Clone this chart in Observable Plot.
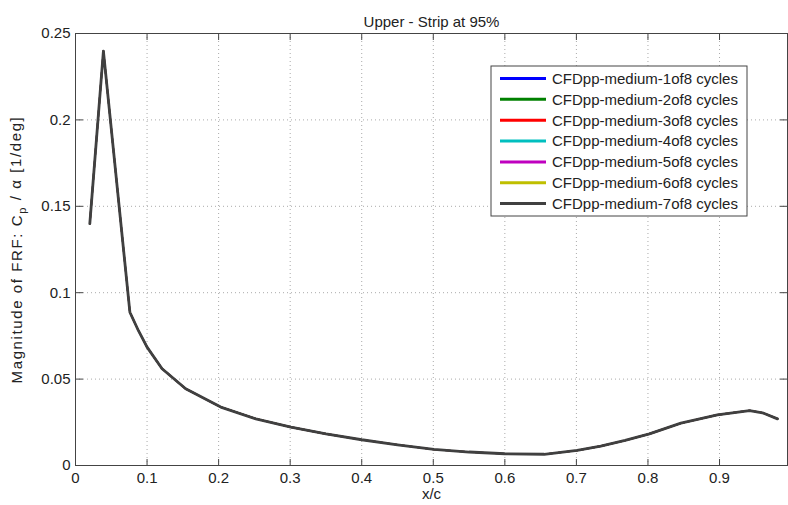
<!DOCTYPE html>
<html>
<head>
<meta charset="utf-8">
<script src="https://cdn.jsdelivr.net/npm/d3@7"></script>
<script src="https://cdn.jsdelivr.net/npm/@observablehq/plot@0.6"></script>
<style>
  html, body { margin: 0; padding: 0; background: #fff; }
  #chart { width: 788px; height: 505px; }
</style>
</head>
<body>
<div id="chart"></div>
<script>
// ---- data ----
const seriesNames = [
  "CFDpp-medium-1of8 cycles",
  "CFDpp-medium-2of8 cycles",
  "CFDpp-medium-3of8 cycles",
  "CFDpp-medium-4of8 cycles",
  "CFDpp-medium-5of8 cycles",
  "CFDpp-medium-6of8 cycles",
  "CFDpp-medium-7of8 cycles"
];
const seriesColors = ["#0000ff", "#008000", "#ff0000", "#00bfbf", "#bf00bf", "#bfbf00", "#404040"];
const xOverC = [0.02, 0.039, 0.076, 0.088, 0.100, 0.121, 0.154, 0.203, 0.252, 0.301, 0.350, 0.400, 0.450, 0.501, 0.550, 0.600, 0.655, 0.701, 0.734, 0.768, 0.802, 0.846, 0.897, 0.942, 0.960, 0.981];
// all seven cycles overlap in the picture
const magnitude = [0.140, 0.2398, 0.0887, 0.078, 0.0685, 0.056, 0.0444, 0.0338, 0.027, 0.0222, 0.0183, 0.0149, 0.0120, 0.0093, 0.0078, 0.0068, 0.0065, 0.0087, 0.0112, 0.0145, 0.0183, 0.0245, 0.0293, 0.0318, 0.0305, 0.027];
const xTicks = [0, 0.1, 0.2, 0.3, 0.4, 0.5, 0.6, 0.7, 0.8, 0.9];
const yTicks = [0, 0.05, 0.1, 0.15, 0.2, 0.25];
const titleText = "Upper - Strip at 95%";
const xLabelText = "x/c";
const yLabelText = "Magnitude of FRF: Cp / α [1/deg]";

const lastSeries = seriesNames[seriesNames.length - 1];
const rows = [];
seriesNames.forEach(s => xOverC.forEach((x, i) => rows.push({series: s, x, y: magnitude[i]})));

const FONT = "'Liberation Sans', Arial, sans-serif";
const axisColor = "#444";

const plot = Plot.plot({
  width: 788,
  height: 505,
  marginTop: 33,
  marginBottom: 40,
  marginLeft: 75,
  marginRight: 1,
  style: {fontFamily: FONT, fontSize: "15px", color: "#222", background: "#fff"},
  x: {domain: [0, 0.995]},
  y: {domain: [0, 0.25]},
  color: {domain: seriesNames, range: seriesColors},
  marks: [
    Plot.gridX(xTicks, {stroke: "#aaa", strokeOpacity: 1, strokeDasharray: "1,3"}),
    Plot.gridY(yTicks, {stroke: "#aaa", strokeOpacity: 1, strokeDasharray: "1,3"}),
    Plot.line(rows.filter(d => d.series !== lastSeries), {x: "x", y: "y", z: "series", stroke: "series", strokeWidth: 1.6, curve: "linear"}),
    Plot.line(rows.filter(d => d.series === lastSeries), {x: "x", y: "y", z: "series", stroke: "series", strokeWidth: 2.8, curve: "linear"}),
    Plot.frame({stroke: axisColor, strokeWidth: 1}),
    // tick labels
    Plot.axisX(xTicks, {tickSize: 0, tickPadding: 7, tickFormat: d => String(d), label: null, fill: "#222"}),
    Plot.axisY(yTicks, {tickSize: 0, tickPadding: 5, tickFormat: d => String(d), label: null, fill: "#222"}),
    // inward ticks on all four sides
    Plot.axisX(xTicks, {anchor: "top", frameAnchor: "bottom", tickSize: 7, text: null, label: null, stroke: axisColor}),
    Plot.axisX(xTicks, {anchor: "bottom", frameAnchor: "top", tickSize: 7, text: null, label: null, stroke: axisColor}),
    Plot.axisY(yTicks, {anchor: "right", frameAnchor: "left", tickSize: 7, text: null, label: null, stroke: axisColor}),
    Plot.axisY(yTicks, {anchor: "left", frameAnchor: "right", tickSize: 7, text: null, label: null, stroke: axisColor}),
    // titles
    Plot.text([titleText], {frameAnchor: "top", dy: -17, fontSize: 15, fill: "#222"}),
    Plot.text([xLabelText], {frameAnchor: "bottom", dy: 33, fontSize: 15, fill: "#222"}),
    Plot.text([yLabelText], {frameAnchor: "left", textAnchor: "middle", dx: -58, rotate: -90, fontSize: 15, fill: "#222"})
  ]
});

document.getElementById("chart").appendChild(plot);

// subscript p in the y label, MATLAB-like wide spacing
const svg = d3.select(plot);
svg.selectAll("text").filter(function() { return this.textContent === yLabelText; }).each(function() {
  const t = d3.select(this).attr("letter-spacing", "1.6px");
  t.text(null);
  t.append("tspan").text("Magnitude of FRF: C");
  t.append("tspan").attr("dy", "0.3em").attr("font-size", "11px").text("p");
  t.append("tspan").attr("dy", "-0.3em").text(" / α [1/deg]");
});

// legend box (MATLAB style, inside the axes)
const lg = svg.append("g").attr("font-family", FONT).attr("font-size", 15).attr("text-anchor", "start");
const boxX = 491, boxY = 66, boxW = 256, boxH = 150, rowH = 20.85, firstRow = 78.5;
lg.append("rect").attr("x", boxX).attr("y", boxY).attr("width", boxW).attr("height", boxH)
  .attr("fill", "#fff").attr("stroke", axisColor).attr("stroke-width", 1);
seriesNames.forEach((s, i) => {
  const cy = firstRow + i * rowH;
  lg.append("line").attr("x1", 500).attr("x2", 546).attr("y1", cy).attr("y2", cy)
    .attr("stroke", seriesColors[i]).attr("stroke-width", 3);
  lg.append("text").attr("x", 552).attr("y", cy).attr("dy", "0.36em").attr("text-anchor", "start").attr("fill", "#222").text(s);
});
</script>
</body>
</html>
